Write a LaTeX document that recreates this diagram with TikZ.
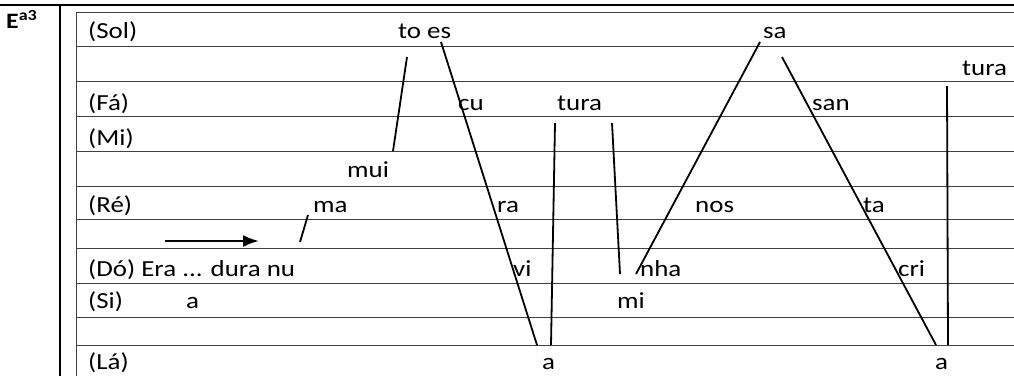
\documentclass[tikz,border=0pt]{standalone}
\usepackage{fontspec}
\setmainfont[FakeStretch=1.17]{Carlito}
\usetikzlibrary{arrows.meta}

\begin{document}
\begin{tikzpicture}[
    x=1pt, y=-1pt,
    syl/.style={anchor=base west, inner sep=0pt, font=\fontsize{23}{27}\selectfont},
    staff/.style={draw=black!75, line width=1pt},
    frame/.style={line width=2.4pt},
    stroke/.style={line width=1.8pt},
    arrow/.style={-{Latex[length=16pt, width=12pt]}, line width=2.2pt}
]
\useasboundingbox (0,0) rectangle (1014,376);

% Outer frame and heading
\draw[frame] (0,5) -- (1014,5);
\draw[frame] (60,5) -- (60,376);
\node[syl, font=\bfseries\fontsize{22}{26}\selectfont] (head) at (6,28) {E\textsuperscript{a3}};

% Staff lines
\foreach \y in {12,46,81,116,151,186,219,248,283,317,345}
  \draw[staff] (76,\y) -- (1014,\y);
\draw[staff] (76,12) -- (76,376);

% Note names
\node[syl] (sol) at (88,38) {(Sol)};
\node[syl] (fa) at (88,110) {(Fá)};
\node[syl] (mi) at (88,145) {(Mi)};
\node[syl] (re) at (88,212) {(Ré)};
\node[syl] (do) at (88,276) {(Dó) Era ... dura nu};
\node[syl] (si) at (88,308) {(Si)};
\node[syl] (la) at (88,369) {(Lá)};

% Syllables
\node[syl] (toes) at (398,38) {to es};
\node[syl] (sa) at (763,38) {sa};
\node[syl] (tura3) at (962,75) {tura};
\node[syl] (cu) at (458,110) {cu};
\node[syl] (tura1) at (557,110) {tura};
\node[syl] (san) at (812,110) {san};
\node[syl] (mui) at (347,177) {mui};
\node[syl] (ma) at (313,212) {ma};
\node[syl] (ra) at (497,212) {ra};
\node[syl] (nos) at (695,212) {nos};
\node[syl] (ta) at (863,212) {ta};
\node[syl] (vi) at (513,276) {vi};
\node[syl] (nha) at (640,276) {nha};
\node[syl] (cri) at (898,276) {cri};
\node[syl] (a1) at (186,308) {a};
\node[syl] (mis) at (617,308) {mi};
\node[syl] (a2) at (542,369) {a};
\node[syl] (a3) at (935,369) {a};

% Ends of the melodic strokes
\coordinate (nu-up) at (300,242);
\coordinate (ma-down) at (308,215);
\coordinate (mui-up) at (393,151);
\coordinate (to-down) at (407,57);
\coordinate (es-down) at (441,42);
\coordinate (a2-left) at (537,345);
\coordinate (a2-right) at (551,345);
\coordinate (tura1-left) at (555,123);
\coordinate (tura1-right) at (612,123);
\coordinate (mi-up) at (620,274);
\coordinate (nha-up) at (636,274);
\coordinate (sa-left) at (760,42);
\coordinate (sa-right) at (782,57);
\coordinate (a3-left) at (936,345);
\coordinate (a3-right) at (948,345);
\coordinate (tura3-down) at (947,86);
\coordinate (arr-start) at (165,241);
\coordinate (arr-end) at (259,241);

% Strokes
\draw[stroke] (nu-up) -- (ma-down);
\draw[stroke] (mui-up) -- (to-down);
\draw[stroke] (es-down) -- (a2-left);
\draw[stroke] (tura1-left) -- (a2-right);
\draw[stroke] (tura1-right) -- (mi-up);
\draw[stroke] (nha-up) -- (sa-left);
\draw[stroke] (sa-right) -- (a3-left);
\draw[stroke] (tura3-down) -- (a3-right);
\draw[arrow] (arr-start) -- (arr-end);

\end{tikzpicture}
\end{document}
